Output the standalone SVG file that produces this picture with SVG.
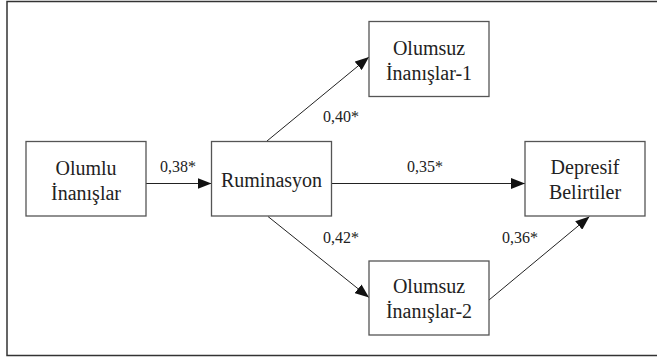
<svg xmlns="http://www.w3.org/2000/svg" width="657" height="358" viewBox="0 0 657 358">
<defs>
<style>
.box{fill:#fff;stroke:#555;stroke-width:1.3}
.t{font-family:'Liberation Serif','DejaVu Serif',serif;font-size:20px;fill:#222;text-anchor:middle}
.l{font-family:'Liberation Serif','DejaVu Serif',serif;font-size:16px;fill:#222;text-anchor:middle}
.c{stroke:#222;stroke-width:1;fill:none;marker-end:url(#ah)}
</style>
<marker id="ah" viewBox="0 0 14 11" refX="14" refY="5.5" markerWidth="14" markerHeight="11" markerUnits="userSpaceOnUse" orient="auto">
<path d="M0,0 L14,5.5 L0,11 z" fill="#111"/>
</marker>
</defs>
<rect x="0" y="0" width="657" height="358" fill="#fff"/>
<rect x="7" y="1.5" width="670" height="354" fill="none" stroke="#333" stroke-width="1.5"/>
<g id="connectors">
<line class="c" x1="146" y1="183.5" x2="211.5" y2="183.5"/>
<line class="c" x1="331.5" y1="183.5" x2="525" y2="183.5"/>
<line class="c" x1="267" y1="141" x2="369" y2="57"/>
<line class="c" x1="268" y1="216.5" x2="369" y2="297.5"/>
<line class="c" x1="489" y1="300" x2="589.5" y2="216.5"/>
</g>
<g id="labels">
<text class="l" x="178" y="172">0,38*</text>
<text class="l" x="425" y="172">0,35*</text>
<text class="l" x="341" y="122">0,40*</text>
<text class="l" x="341" y="243">0,42*</text>
<text class="l" x="520" y="243">0,36*</text>
</g>
<g id="olumlu">
<rect class="box" x="26" y="141.5" width="120" height="74.5"/>
<text class="t" x="86" y="175">Olumlu</text>
<text class="t" x="86" y="200">İnanışlar</text>
</g>
<g id="ruminasyon">
<rect class="box" x="211.5" y="141.5" width="120" height="74.5"/>
<text class="t" x="271.5" y="186.5">Ruminasyon</text>
</g>
<g id="olumsuz1">
<rect class="box" x="369" y="21.5" width="120" height="75"/>
<text class="t" x="429" y="55">Olumsuz</text>
<text class="t" x="429" y="80">İnanışlar-1</text>
</g>
<g id="depresif">
<rect class="box" x="525" y="141.5" width="120" height="74.5"/>
<text class="t" x="585" y="173.5">Depresif</text>
<text class="t" x="585" y="199">Belirtiler</text>
</g>
<g id="olumsuz2">
<rect class="box" x="369" y="261" width="120" height="74"/>
<text class="t" x="429" y="293">Olumsuz</text>
<text class="t" x="429" y="318">İnanışlar-2</text>
</g>
</svg>
